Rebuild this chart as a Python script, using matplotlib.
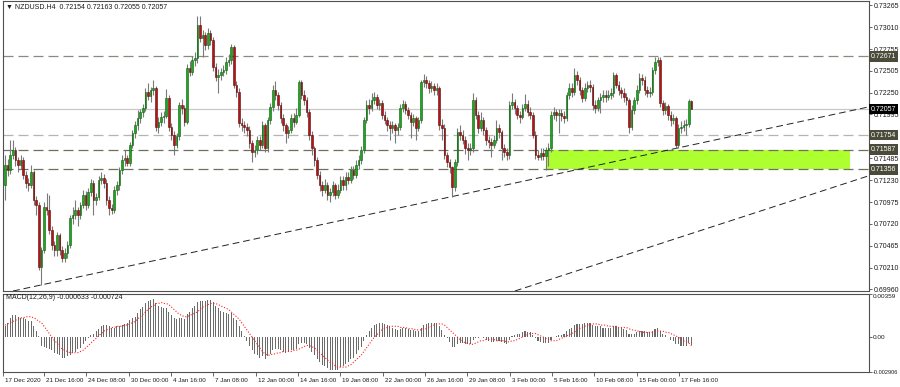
import numpy as np
import matplotlib
matplotlib.use('Agg')
import matplotlib.pyplot as plt
from matplotlib.patches import Rectangle
from matplotlib.transforms import ScaledTranslation

plt.rcParams['font.family'] = ['Liberation Sans', 'DejaVu Sans']

# NZDUSD H4 candles (one value per bar)
first_open = 0.7117
closes = [
    0.7141, 0.7135, 0.7152, 0.7158, 0.7146, 0.7141, 0.7146, 0.7129, 0.7120, 0.7117,
    0.7132, 0.7100, 0.7094, 0.7022, 0.7042, 0.7092, 0.7088, 0.7065, 0.7048, 0.7042,
    0.7059, 0.7042, 0.7032, 0.7038, 0.7048, 0.7079, 0.7082, 0.7088, 0.7082, 0.7094,
    0.7106, 0.7094, 0.7109, 0.7120, 0.7100, 0.7103, 0.7123, 0.7126, 0.7120, 0.7100,
    0.7091, 0.7088, 0.7112, 0.7117, 0.7135, 0.7146, 0.7149, 0.7143, 0.7164, 0.7178,
    0.7187, 0.7195, 0.7202, 0.7207, 0.7226, 0.7221, 0.7228, 0.7230, 0.7185, 0.7191,
    0.7197, 0.7198, 0.7219, 0.7185, 0.7176, 0.7164, 0.7174, 0.7211, 0.7207, 0.7191,
    0.7254, 0.7249, 0.7263, 0.7265, 0.7304, 0.7289, 0.7292, 0.7280, 0.7294, 0.7286,
    0.7255, 0.7243, 0.7246, 0.7249, 0.7251, 0.7261, 0.7263, 0.7278, 0.7234, 0.7226,
    0.7190, 0.7187, 0.7185, 0.7181, 0.7166, 0.7156, 0.7158, 0.7170, 0.7164, 0.7187,
    0.7160, 0.7193, 0.7208, 0.7228, 0.7222, 0.7211, 0.7195, 0.7187, 0.7178, 0.7181,
    0.7195, 0.7191, 0.7199, 0.7237, 0.7222, 0.7216, 0.7202, 0.7176, 0.7160, 0.7146,
    0.7129, 0.7117, 0.7112, 0.7117, 0.7106, 0.7109, 0.7117, 0.7106, 0.7112, 0.7123,
    0.7117, 0.7127, 0.7123, 0.7135, 0.7129, 0.7141, 0.7146, 0.7158, 0.7193, 0.7211,
    0.7207, 0.7216, 0.7220, 0.7211, 0.7213, 0.7199, 0.7193, 0.7187, 0.7184, 0.7187,
    0.7181, 0.7185, 0.7207, 0.7212, 0.7205, 0.7199, 0.7191, 0.7195, 0.7184, 0.7193,
    0.7237, 0.7240, 0.7236, 0.7230, 0.7233, 0.7228, 0.7230, 0.7187, 0.7184, 0.7152,
    0.7144, 0.7138, 0.7115, 0.7144, 0.7179, 0.7176, 0.7170, 0.7160, 0.7158, 0.7160,
    0.7216, 0.7199, 0.7184, 0.7193, 0.7181, 0.7170, 0.7167, 0.7164, 0.7170, 0.7184,
    0.7179, 0.7160, 0.7156, 0.7152, 0.7211, 0.7214, 0.7207, 0.7199, 0.7197, 0.7207,
    0.7212, 0.7202, 0.7199, 0.7176, 0.7152, 0.7150, 0.7155, 0.7151, 0.7158, 0.7160,
    0.7199, 0.7202, 0.7199, 0.7201, 0.7198, 0.7195, 0.7222, 0.7230, 0.7226, 0.7246,
    0.7240, 0.7228, 0.7219, 0.7230, 0.7234, 0.7232, 0.7211, 0.7207, 0.7216, 0.7220,
    0.7222, 0.7220, 0.7222, 0.7225, 0.7246, 0.7234, 0.7228, 0.7225, 0.7220, 0.7216,
    0.7185, 0.7205, 0.7216, 0.7228, 0.7242, 0.7240, 0.7228, 0.7225, 0.7226, 0.7251,
    0.7261, 0.7263, 0.7213, 0.7205, 0.7209, 0.7199, 0.7193, 0.7195, 0.7164, 0.7184,
    0.7185, 0.7187, 0.7188, 0.72154, 0.72057,
]
highs = [
    0.7152, 0.7148, 0.7170, 0.7170, 0.7162, 0.7150, 0.7152, 0.7150, 0.7134, 0.7126,
    0.7141, 0.7135, 0.7104, 0.7098, 0.7045, 0.7098, 0.7108, 0.7106, 0.7070, 0.7052,
    0.7063, 0.7062, 0.7046, 0.7044, 0.7052, 0.7083, 0.7092, 0.7100, 0.7092, 0.7098,
    0.7112, 0.7110, 0.7114, 0.7124, 0.7123, 0.7108, 0.7128, 0.7132, 0.7130, 0.7124,
    0.7104, 0.7095, 0.7116, 0.7122, 0.7138, 0.7152, 0.7158, 0.7152, 0.7168, 0.7182,
    0.7192, 0.7205, 0.7206, 0.7212, 0.7230, 0.7236, 0.7232, 0.7240, 0.7233, 0.7196,
    0.7202, 0.7204, 0.7229, 0.7222, 0.7190, 0.7180, 0.7178, 0.7214, 0.7218, 0.7210,
    0.7258, 0.7262, 0.7268, 0.7272, 0.7314, 0.7314, 0.7298, 0.7296, 0.7300, 0.7298,
    0.7290, 0.7260, 0.7252, 0.7254, 0.7257, 0.7266, 0.7270, 0.7282, 0.7280, 0.7238,
    0.7230, 0.7195, 0.7192, 0.7190, 0.7186, 0.7170, 0.7164, 0.7175, 0.7174, 0.7192,
    0.7190, 0.7196, 0.7213, 0.7234, 0.7238, 0.7226, 0.7214, 0.7200, 0.7190, 0.7186,
    0.7200, 0.7201, 0.7207, 0.7240, 0.7240, 0.7228, 0.7220, 0.7206, 0.7180, 0.7163,
    0.7150, 0.7134, 0.7122, 0.7124, 0.7121, 0.7114, 0.7122, 0.7120, 0.7118, 0.7128,
    0.7128, 0.7132, 0.7133, 0.7140, 0.7140, 0.7146, 0.7152, 0.7163, 0.7197, 0.7216,
    0.7218, 0.7225, 0.7226, 0.7223, 0.7218, 0.7216, 0.7204, 0.7197, 0.7192, 0.7192,
    0.7190, 0.7190, 0.7212, 0.7216, 0.7215, 0.7208, 0.7202, 0.7200, 0.7198, 0.7196,
    0.7240, 0.7247, 0.7244, 0.7240, 0.7238, 0.7236, 0.7236, 0.7233, 0.7194, 0.7188,
    0.7156, 0.7148, 0.7140, 0.7148, 0.7184, 0.7187, 0.7182, 0.7174, 0.7166, 0.7166,
    0.7225, 0.7220, 0.7203, 0.7202, 0.7196, 0.7185, 0.7175, 0.7172, 0.7176, 0.7193,
    0.7188, 0.7182, 0.7165, 0.7160, 0.7215, 0.7225, 0.7218, 0.7210, 0.7204, 0.7212,
    0.7223, 0.7216, 0.7208, 0.7202, 0.7180, 0.7158, 0.7160, 0.7160, 0.7162, 0.7166,
    0.7203, 0.7208, 0.7206, 0.7206, 0.7206, 0.7203, 0.7226, 0.7236, 0.7236, 0.7254,
    0.7250, 0.7243, 0.7232, 0.7236, 0.7238, 0.7240, 0.7235, 0.7216, 0.7220, 0.7224,
    0.7228, 0.7228, 0.7228, 0.7230, 0.7249, 0.7248, 0.7238, 0.7232, 0.7230, 0.7224,
    0.7219, 0.7210, 0.7220, 0.7234, 0.7248, 0.7247, 0.7244, 0.7233, 0.7232, 0.7255,
    0.7267, 0.7267, 0.7266, 0.7216, 0.7214, 0.7212, 0.7204, 0.7200, 0.7198, 0.7188,
    0.7192, 0.7193, 0.7194, 0.7218, 0.72163,
]
lows = [
    0.7100, 0.7128, 0.7130, 0.7148, 0.7140, 0.7132, 0.7136, 0.7124, 0.7114, 0.7110,
    0.7114, 0.7094, 0.7082, 0.7018, 0.7001, 0.7038, 0.7082, 0.7060, 0.7042, 0.7035,
    0.7035, 0.7036, 0.7028, 0.7028, 0.7032, 0.7044, 0.7072, 0.7078, 0.7070, 0.7078,
    0.7090, 0.7088, 0.7090, 0.7104, 0.7082, 0.7094, 0.7100, 0.7118, 0.7114, 0.7094,
    0.7082, 0.7084, 0.7085, 0.7106, 0.7112, 0.7130, 0.7140, 0.7140, 0.7140, 0.7160,
    0.7172, 0.7182, 0.7190, 0.7196, 0.7204, 0.7216, 0.7214, 0.7222, 0.7180, 0.7178,
    0.7186, 0.7190, 0.7195, 0.7180, 0.7170, 0.7152, 0.7160, 0.7170, 0.7200, 0.7186,
    0.7188, 0.7244, 0.7245, 0.7256, 0.7260, 0.7284, 0.7266, 0.7275, 0.7276, 0.7280,
    0.7250, 0.7238, 0.7225, 0.7240, 0.7244, 0.7247, 0.7256, 0.7258, 0.7230, 0.7220,
    0.7185, 0.7180, 0.7178, 0.7175, 0.7160, 0.7144, 0.7150, 0.7154, 0.7158, 0.7160,
    0.7156, 0.7156, 0.7188, 0.7204, 0.7216, 0.7205, 0.7190, 0.7180, 0.7166, 0.7172,
    0.7178, 0.7185, 0.7188, 0.7196, 0.7218, 0.7210, 0.7196, 0.7170, 0.7152, 0.7140,
    0.7124, 0.7110, 0.7104, 0.7108, 0.7100, 0.7098, 0.7104, 0.7101, 0.7102, 0.7108,
    0.7112, 0.7112, 0.7118, 0.7120, 0.7124, 0.7126, 0.7136, 0.7142, 0.7155, 0.7190,
    0.7200, 0.7204, 0.7212, 0.7206, 0.7205, 0.7194, 0.7188, 0.7180, 0.7170, 0.7178,
    0.7166, 0.7176, 0.7182, 0.7202, 0.7200, 0.7194, 0.7172, 0.7186, 0.7170, 0.7180,
    0.7190, 0.7232, 0.7230, 0.7225, 0.7226, 0.7222, 0.7222, 0.7182, 0.7170, 0.7148,
    0.7138, 0.7131, 0.7103, 0.7110, 0.7140, 0.7170, 0.7165, 0.7154, 0.7146, 0.7152,
    0.7156, 0.7194, 0.7178, 0.7180, 0.7176, 0.7164, 0.7160, 0.7150, 0.7160, 0.7166,
    0.7172, 0.7146, 0.7150, 0.7146, 0.7148, 0.7206, 0.7200, 0.7194, 0.7190, 0.7194,
    0.7203, 0.7198, 0.7194, 0.7172, 0.7148, 0.7146, 0.7146, 0.7146, 0.7135, 0.7140,
    0.7156, 0.7194, 0.7192, 0.7178, 0.7192, 0.7190, 0.7192, 0.7218, 0.7220, 0.7222,
    0.7234, 0.7222, 0.7214, 0.7215, 0.7226, 0.7226, 0.7205, 0.7201, 0.7203, 0.7201,
    0.7214, 0.7214, 0.7216, 0.7218, 0.7220, 0.7230, 0.7222, 0.7219, 0.7214, 0.7210,
    0.7178, 0.7182, 0.7200, 0.7212, 0.7225, 0.7234, 0.7222, 0.7220, 0.7220, 0.7222,
    0.7247, 0.7256, 0.7208, 0.7199, 0.7200, 0.7193, 0.7186, 0.7188, 0.7160, 0.7160,
    0.7178, 0.7180, 0.7176, 0.7185, 0.72055,
]

# MACD(12,26,9) main (histogram) and signal, in units of 1e-4
macd_main = [
    9, 12, 16, 18, 18, 17, 16, 16, 15, 13,
    13, 9, 5, 1, -7, -8, -9, -10, -11, -13,
    -14, -15, -17, -17, -16, -15, -13, -12, -10, -9,
    -6, -3, -1, 2, 3, 5, 7, 9, 10, 10,
    9, 8, 8, 9, 9, 10, 11, 12, 14, 16,
    17, 20, 23, 25, 28, 30, 31, 32, 28, 26,
    25, 24, 24, 21, 18, 16, 15, 16, 16, 15,
    19, 21, 24, 26, 29, 30, 30, 30, 31, 31,
    29, 26, 24, 22, 21, 20, 19, 20, 16, 14,
    9, 5, 1, -3, -7, -11, -14, -15, -17, -16,
    -18, -16, -14, -11, -10, -10, -11, -12, -13, -12,
    -11, -11, -10, -6, -5, -5, -6, -9, -12, -15,
    -18, -21, -23, -24, -26, -27, -27, -27, -27, -25,
    -24, -22, -21, -18, -17, -14, -11, -8, -3, 2,
    5, 8, 10, 11, 12, 12, 11, 10, 9, 8,
    7, 6, 7, 8, 8, 7, 6, 6, 5, 5,
    8, 10, 11, 12, 12, 12, 12, 9, 6, 2,
    -1, -4, -8, -8, -6, -5, -5, -6, -6, -6,
    -2, -1, -1, 0, -1, -2, -3, -4, -4, -3,
    -3, -4, -5, -6, -2, 1, 2, 3, 3, 4,
    5, 4, 4, 2, -1, -3, -4, -5, -5, -5,
    -2, 0, 1, 2, 2, 3, 5, 7, 8, 10,
    11, 11, 11, 12, 12, 12, 10, 9, 9, 9,
    8, 8, 8, 8, 9, 9, 8, 8, 7, 6,
    3, 3, 3, 4, 5, 5, 5, 4, 4, 5,
    7, 8, 5, 3, 2, 0, -2, -3, -6, -6,
    -7, -7, -7, -5, -6.33,
]
macd_signal = [
    10, 11, 12, 13, 14, 15, 16, 16, 17, 17,
    17, 16, 15, 13, 12, 9, 6, 3, 0, -3,
    -5, -8, -10, -11, -12, -13, -13, -13, -13, -12,
    -11, -9, -7, -5, -3, -1, 1, 3, 5, 6,
    7, 8, 8, 9, 9, 9, 10, 10, 11, 12,
    13, 15, 17, 19, 21, 23, 25, 26, 28, 28,
    29, 28, 28, 27, 25, 23, 21, 19, 18, 17,
    17, 18, 19, 20, 21, 23, 25, 26, 27, 28,
    28, 28, 27, 26, 25, 24, 23, 21, 19, 17,
    15, 12, 9, 6, 3, 0, -3, -6, -9, -12,
    -14, -15, -15, -14, -14, -13, -13, -12, -12, -12,
    -12, -11, -11, -10, -9, -8, -7, -7, -8, -9,
    -11, -13, -15, -17, -19, -21, -22, -24, -25, -25,
    -25, -25, -24, -23, -21, -19, -17, -15, -12, -9,
    -6, -3, 0, 2, 4, 6, 7, 8, 9, 9,
    9, 9, 8, 8, 8, 7, 7, 7, 6, 6,
    6, 7, 7, 8, 9, 10, 11, 11, 11, 10,
    8, 6, 4, 2, 0, -2, -3, -5, -5, -6,
    -6, -5, -4, -3, -3, -2, -2, -2, -2, -3,
    -3, -3, -3, -4, -4, -3, -3, -2, -1, 0,
    1, 2, 3, 3, 3, 2, 1, 0, -1, -2,
    -3, -3, -3, -2, -1, 0, 1, 2, 3, 4,
    6, 7, 8, 9, 10, 10, 11, 11, 11, 10,
    10, 10, 9, 9, 9, 9, 8, 8, 8, 8,
    7, 6, 6, 5, 5, 4, 4, 4, 4, 4,
    5, 5, 5, 5, 4, 4, 3, 2, 1, 0,
    -2, -3, -4, -5, -7.24,
]

# horizontal levels
level_prices = [0.72671, 0.71754, 0.71587, 0.71356]
level_labels = ['0.72671', '0.71754', '0.71587', '0.71356']
level_colors = ['#8a8a80', '#b4b4b4', '#707060', '#707060']
bid_price = 0.72057

# zone and trend lines (bar index, price)
zone_start, zone_end = 208.5, 325
zone_low, zone_high = 0.71356, 0.71587
trend_up_1 = [(14, 0.7001), (258, 0.7160)]
trend_up_2 = [(196.2, 0.6994), (325, 0.7121)]

price_ticks = [0.73265, 0.73010, 0.72755, 0.72505, 0.72250, 0.71995, 0.71485,
               0.71230, 0.70975, 0.70720, 0.70465, 0.70210, 0.69960]
price_tick_labels = ['0.73265', '0.73010', '0.72755', '0.72505', '0.72250', '0.71995',
                     '0.71485', '0.71230', '0.70975', '0.70720', '0.70465', '0.70210',
                     '0.69960']

time_ticks = [-0.8, 15, 31.2, 47.7, 63.8, 80, 96.5, 112.7, 128.8, 145.4, 161.5,
              177.7, 194.2, 210.4, 226.5, 243, 259.2]
time_labels = ['17 Dec 2020', '21 Dec 16:00', '24 Dec 08:00', '30 Dec 00:00',
               '4 Jan 16:00', '7 Jan 08:00', '12 Jan 00:00', '14 Jan 16:00',
               '19 Jan 08:00', '22 Jan 00:00', '26 Jan 16:00', '29 Jan 08:00',
               '3 Feb 00:00', '5 Feb 16:00', '10 Feb 08:00', '15 Feb 00:00',
               '17 Feb 16:00']

TXT = '#1a1a1a'
FRAME = '#505050'

fig = plt.figure(figsize=(9, 3.87), dpi=100)
fig.patch.set_facecolor('white')
ax = fig.add_axes([3 / 900, 1 - 291 / 387, 866 / 900, 290 / 387])
ax2 = fig.add_axes([3 / 900, 1 - 372 / 387, 866 / 900, 78 / 387])

idx = np.arange(len(closes))
c = np.array(closes)
o = np.array([first_open] + closes[:-1])
h = np.array(highs)
l = np.array(lows)
up = c >= o
dn = ~up

# zone + levels
ax.add_patch(Rectangle((zone_start, zone_low), zone_end - zone_start, zone_high - zone_low,
                       facecolor='#adff2f', edgecolor='none', zorder=1))
for p, col in zip(level_prices, level_colors):
    ax.axhline(p, color=col, lw=0.9, dashes=(8, 4), zorder=2)
ax.axhline(bid_price, color='#c8c8c8', lw=0.9, zorder=2)
for (x1, y1), (x2, y2) in (trend_up_1, trend_up_2):
    ax.axline((x1, y1), (x2, y2), color='#222222', lw=0.7, dashes=(7, 4), zorder=2)

# candles
ax.vlines(idx, l, h, color='#7a7a7a', lw=0.8, zorder=3)
ax.bar(idx[up], (c - o)[up], bottom=o[up], width=0.62, color='#1fa51f',
       edgecolor='#0b5e0b', linewidth=0.4, zorder=4)
ax.bar(idx[dn], (c - o)[dn], bottom=o[dn], width=0.62, color='#b51414',
       edgecolor='#5c0808', linewidth=0.4, zorder=4)

ax.set_xlim(-0.77, 332.3)
ax.set_ylim(0.69939, 0.73317)
ax.set_xticks([])
ax.yaxis.tick_right()
ax.set_yticks(price_ticks)
ax.set_yticklabels(price_tick_labels)
ax.tick_params(axis='y', length=2, width=0.6, pad=1.5, labelsize=5,
               color=FRAME, labelcolor=TXT)

for p, lab in zip(level_prices, level_labels):
    ax.text(1.002, p, lab, transform=ax.get_yaxis_transform(), ha='left', va='center',
            fontsize=5, color='white', zorder=6, clip_on=False,
            bbox=dict(boxstyle='square,pad=0.25', fc='#4b4b3a', ec='none'))
ax.text(1.002, bid_price, '0.72057', transform=ax.get_yaxis_transform(), ha='left',
        va='center', fontsize=5, color='white', zorder=6, clip_on=False,
        bbox=dict(boxstyle='square,pad=0.25', fc='#000000', ec='none'))

ax.text(0.003, 0.978, '▼ NZDUSD.H4  0.72154 0.72163 0.72055 0.72057',
        transform=ax.transAxes, fontsize=5, color=TXT, ha='left', va='center')

# MACD panel
m = np.array(macd_main) * 1e-4
s = np.array(macd_signal) * 1e-4
ax2.bar(idx, m, width=0.42, color='#6a6a6a', zorder=2)
ax2.plot(idx, s, color='#ff2020', lw=0.8, dashes=(1, 1.6), zorder=3)
ax2.set_xlim(-0.77, 332.3)
ax2.set_ylim(-0.002906, 0.00359)
ax2.yaxis.tick_right()
ax2.set_yticks([0.00359, 0.0, -0.002906])
ax2.set_yticklabels(['0.00359', '0.00', '-0.002906'])
ax2.tick_params(axis='y', length=2, width=0.6, pad=1.0, labelsize=4.6,
                color=FRAME, labelcolor=TXT)
ylabs = ax2.get_yticklabels()
ylabs[0].set_va('top')
ylabs[2].set_va('center')
ylabs[2].set_fontsize(4.1)
ax2.set_xticks(time_ticks)
ax2.set_xticklabels(time_labels, ha='left')
ax2.tick_params(axis='x', length=3, width=0.6, pad=1.5, labelsize=4.5,
                color=FRAME, labelcolor=TXT)
shift = ScaledTranslation(2 / 100, 0, fig.dpi_scale_trans)
for lab in ax2.get_xticklabels():
    lab.set_transform(lab.get_transform() + shift)
ax2.text(0.003, 0.95, 'MACD(12,26,9) -0.000633 -0.000724', transform=ax2.transAxes,
         fontsize=5, color=TXT, ha='left', va='center')

for a in (ax, ax2):
    a.set_facecolor('white')
    for sp in a.spines.values():
        sp.set_color(FRAME)
        sp.set_linewidth(0.8)

fig.savefig('out.png', dpi=100)
